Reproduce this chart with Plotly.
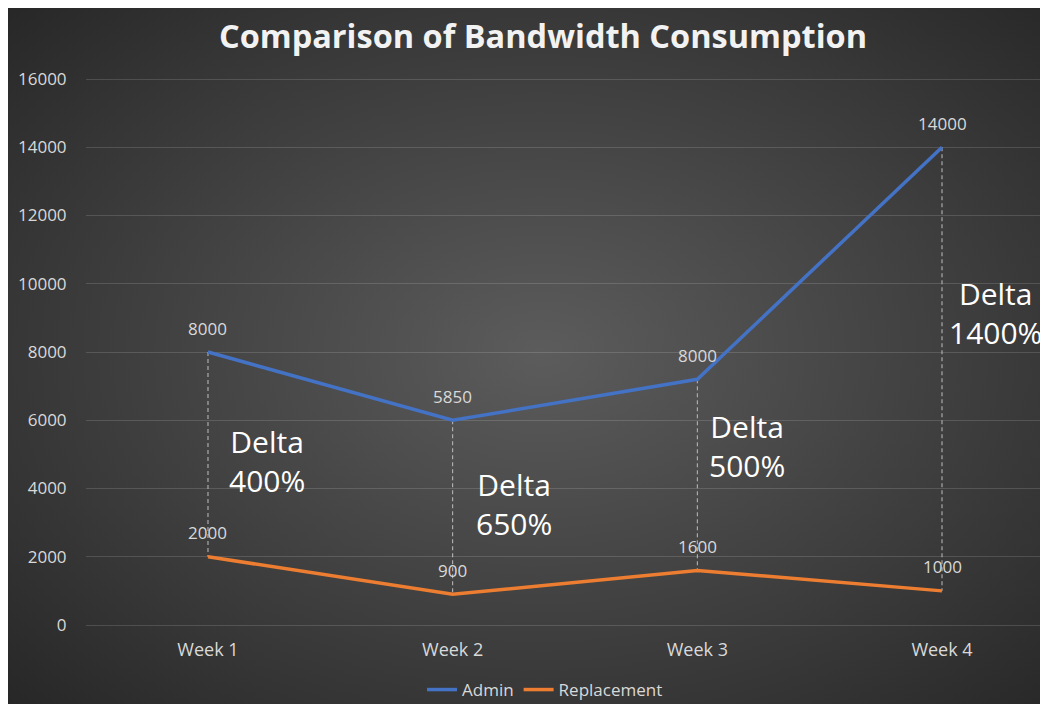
import base64
import plotly.graph_objects as go

# ---- data ----
weeks = ["Week 1", "Week 2", "Week 3", "Week 4"]
admin = [8000, 6000, 7200, 14000]
admin_labels = ["8000", "5850", "8000", "14000"]
replacement = [2000, 900, 1600, 1000]
replacement_labels = ["2000", "900", "1600", "1000"]
delta_labels = ["Delta<br>400%", "Delta<br>650%", "Delta<br>500%", "Delta<br>1400%"]
y_ticks = [0, 2000, 4000, 6000, 8000, 10000, 12000, 14000, 16000]

# The page body adds an 8px margin; the figure is sized so that it ends at the window edge.
OFF = 8
W, H = 1048 - OFF, 707 - OFF
FONT = "Open Sans"
BLUE = "#4472C4"
ORANGE = "#ED7D31"
LABEL = "#D9D9D9"
GRID = "rgba(255,255,255,0.14)"

fig = go.Figure()

# drop lines between series
for i, wk in enumerate(weeks):
    fig.add_trace(go.Scatter(
        x=[wk, wk], y=[admin[i], replacement[i]], mode="lines",
        line=dict(color="#BFBFBF", width=1, dash="4px,3px"),
        showlegend=False, hoverinfo="skip"))

fig.add_trace(go.Scatter(x=weeks, y=admin, mode="lines", name="Admin",
                         line=dict(color=BLUE, width=3.5)))
fig.add_trace(go.Scatter(x=weeks, y=replacement, mode="lines", name="Replacement",
                         line=dict(color=ORANGE, width=3.5)))

# data labels
for wk, v, t in zip(weeks, admin, admin_labels):
    fig.add_annotation(x=wk, y=v, text=t, showarrow=False, yshift=24,
                       font=dict(family=FONT, size=17, color=LABEL))
for wk, v, t in zip(weeks, replacement, replacement_labels):
    fig.add_annotation(x=wk, y=v, text=t, showarrow=False, yshift=24,
                       font=dict(family=FONT, size=17, color=LABEL))

# delta text boxes (free-floating positions)
delta_pos = [(0.241, 4806), (1.249, 3546), (2.204, 5245), (3.22, 9143)]
for (px, py), t in zip(delta_pos, delta_labels):
    fig.add_annotation(x=px, y=py, text=t, showarrow=False, align="center",
                       xanchor="center", yanchor="middle",
                       font=dict(family=FONT, size=30, color="#FFFFFF"))

# radial gradient background
IMG_W, IMG_H = W, 704 - OFF
svg = f'''<svg xmlns="http://www.w3.org/2000/svg" width="{IMG_W}" height="{IMG_H}" viewBox="0 0 {IMG_W} {IMG_H}" preserveAspectRatio="none">
<defs><radialGradient id="g" cx="{(543 - OFF) / IMG_W * 100:.1f}%" cy="{(353 - OFF) / IMG_H * 100:.1f}%" r="72%">
<stop offset="0%" stop-color="#5C5C5C"/>
<stop offset="100%" stop-color="#272727"/>
</radialGradient></defs>
<rect x="0" y="0" width="{IMG_W}" height="{IMG_H}" fill="url(#g)"/></svg>'''
src = "data:image/svg+xml;base64," + base64.b64encode(svg.encode()).decode()
fig.add_layout_image(dict(source=src, xref="paper", yref="paper",
                          x=0, y=1, sizex=1, sizey=IMG_H / H,
                          xanchor="left", yanchor="top", sizing="stretch", layer="below"))

# pixel geometry (reference pixel coords minus the body offset)
x_left = 86 - OFF
wk1_x = 208 - OFF
wk4_x = 942 - OFF
step = 244.7
y0_px, y16_px = 625 - OFF, 79 - OFF
px_per_unit = (y0_px - y16_px) / 16000
pad = 2  # a couple of pixels beyond the 0 / 16000 gridlines so they are drawn

fig.update_layout(
    width=W, height=H,
    margin=dict(l=0, r=0, t=0, b=0, autoexpand=False),
    paper_bgcolor="#FFFFFF",
    plot_bgcolor="rgba(0,0,0,0)",
    title=dict(text="<b>Comparison of Bandwidth Consumption</b>",
               x=(543 - OFF) / W, y=1 - (37 - OFF) / H, xanchor="center", yanchor="middle",
               font=dict(family=FONT, size=32.5, color="#F2F2F2")),
    xaxis=dict(type="category", domain=[x_left / W, 1], automargin=False,
               range=[-(wk1_x - x_left) / step, 3 + (W - wk4_x) / step],
               showgrid=False, zeroline=False, showline=False,
               ticks="outside", ticklen=6, tickcolor="rgba(0,0,0,0)",
               tickfont=dict(family=FONT, size=18, color=LABEL)),
    yaxis=dict(domain=[(H - y0_px - pad) / H, (H - y16_px + pad) / H], automargin=False,
               range=[-pad / px_per_unit, 16000 + pad / px_per_unit],
               tickvals=y_ticks, tickformat="d",
               gridcolor=GRID, gridwidth=1,
               zeroline=True, zerolinecolor=GRID, zerolinewidth=1, showline=False,
               ticks="outside", ticklen=15, tickcolor="rgba(0,0,0,0)",
               tickfont=dict(family=FONT, size=17, color=LABEL)),
    legend=dict(orientation="h", x=(545 - OFF) / W, y=(H - (690 - OFF)) / H,
                xanchor="center", yanchor="middle",
                bgcolor="rgba(0,0,0,0)",
                font=dict(family=FONT, size=17, color=LABEL)),
    showlegend=True,
)

fig.write_html("out.html")
